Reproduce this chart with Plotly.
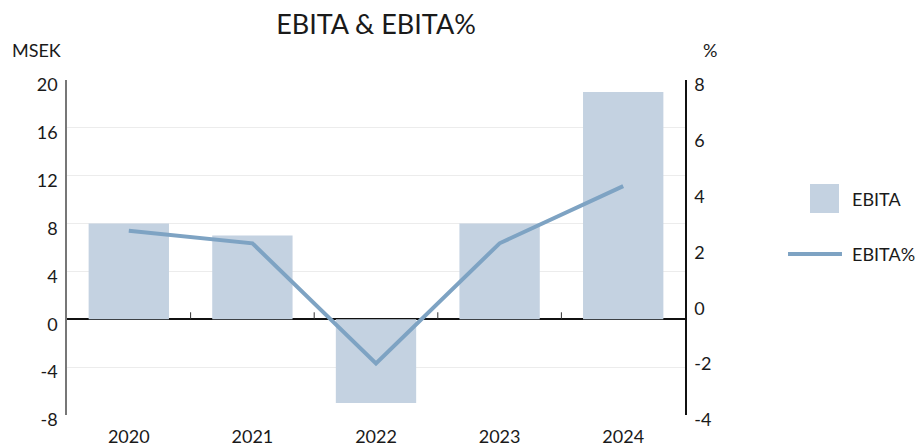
import plotly.graph_objects as go

years = ["2020", "2021", "2022", "2023", "2024"]
ebita = [8, 7, -7, 8, 19]
ebita_pct = [2.6, 2.15, -2.15, 2.15, 4.2]

left_ticks = list(range(-8, 21, 4))
right_ticks = list(range(-4, 9, 2))

BAR_COLOR = "#c4d2e1"
LINE_COLOR = "#7ea3c3"
TEXT = "#1a1a1a"
FONT = "Lato, Noto Sans, sans-serif"

fig = go.Figure()
fig.add_trace(go.Bar(x=years, y=ebita, name="EBITA", marker_color=BAR_COLOR,
                     marker_line_width=0, yaxis="y", showlegend=False))
fig.add_trace(go.Scatter(x=years, y=ebita_pct, name="EBITA%", mode="lines",
                         line=dict(color=LINE_COLOR, width=4), yaxis="y2",
                         showlegend=False))

# category boundary ticks on the zero line
shapes = []
for i in range(len(years) - 1):
    shapes.append(dict(type="line", xref="x", yref="y", x0=i + 0.5, x1=i + 0.5,
                       ysizemode="pixel", yanchor=0, y0=0, y1=7,
                       line=dict(color="#333", width=1)))

# manual legend (paper coordinates)
shapes.append(dict(type="rect", xref="paper", yref="paper", x0=1.2023, x1=1.2492,
                   y0=0.603, y1=0.6896, fillcolor=BAR_COLOR, line_width=0))
shapes.append(dict(type="line", xref="paper", yref="paper", x0=1.1667, x1=1.254,
                   y0=0.4806, y1=0.4806, line=dict(color=LINE_COLOR, width=4)))

annotations = [
    dict(text="MSEK", xref="paper", yref="paper", x=-0.092, y=1.0896, xanchor="left",
         yanchor="middle", showarrow=False, font=dict(size=18, color=TEXT)),
    dict(text="%", xref="paper", yref="paper", x=1.026, y=1.0896, xanchor="left",
         yanchor="middle", showarrow=False, font=dict(size=18, color=TEXT)),
    dict(text="EBITA", xref="paper", yref="paper", x=1.267, y=0.645, xanchor="left",
         yanchor="middle", showarrow=False, font=dict(size=18, color=TEXT)),
    dict(text="EBITA%", xref="paper", yref="paper", x=1.267, y=0.4806, xanchor="left",
         yanchor="middle", showarrow=False, font=dict(size=18, color=TEXT)),
]

fig.update_layout(
    width=915, height=438,
    margin=dict(l=59, r=238, t=72, b=31, autoexpand=False),
    paper_bgcolor="white", plot_bgcolor="white",
    font=dict(family=FONT, size=18, color=TEXT),
    title=dict(text="EBITA & EBITA%", x=0.5, xref="paper", y=0.962, yref="container",
               xanchor="center", yanchor="middle", font=dict(size=27, color=TEXT)),
    bargap=0.35,
    showlegend=False,
    xaxis=dict(type="category", showline=False, ticks="", showgrid=False,
               automargin=False, range=[-0.5, len(years) - 0.5],
               ticklabelstandoff=9),
    yaxis=dict(range=[-8, 20], tickvals=left_ticks,
               ticktext=[str(v) for v in left_ticks],
               showgrid=True, gridcolor="#ececec",
               gridwidth=1, zeroline=True, zerolinecolor="#111", zerolinewidth=1.5,
               showline=True, linecolor="#777", linewidth=1.5, ticks="",
               automargin=False, ticklabelstandoff=4, ticklabelshift=5),
    yaxis2=dict(range=[-4, 8], tickvals=right_ticks,
                ticktext=[str(v) for v in right_ticks],
                overlaying="y", side="right",
                showgrid=False, zeroline=False, showline=True, linecolor="#111",
                linewidth=1.5, ticks="", automargin=False, ticklabelstandoff=4,
                ticklabelshift=5),
    shapes=shapes,
    annotations=annotations,
)

fig.write_html("out.html")
